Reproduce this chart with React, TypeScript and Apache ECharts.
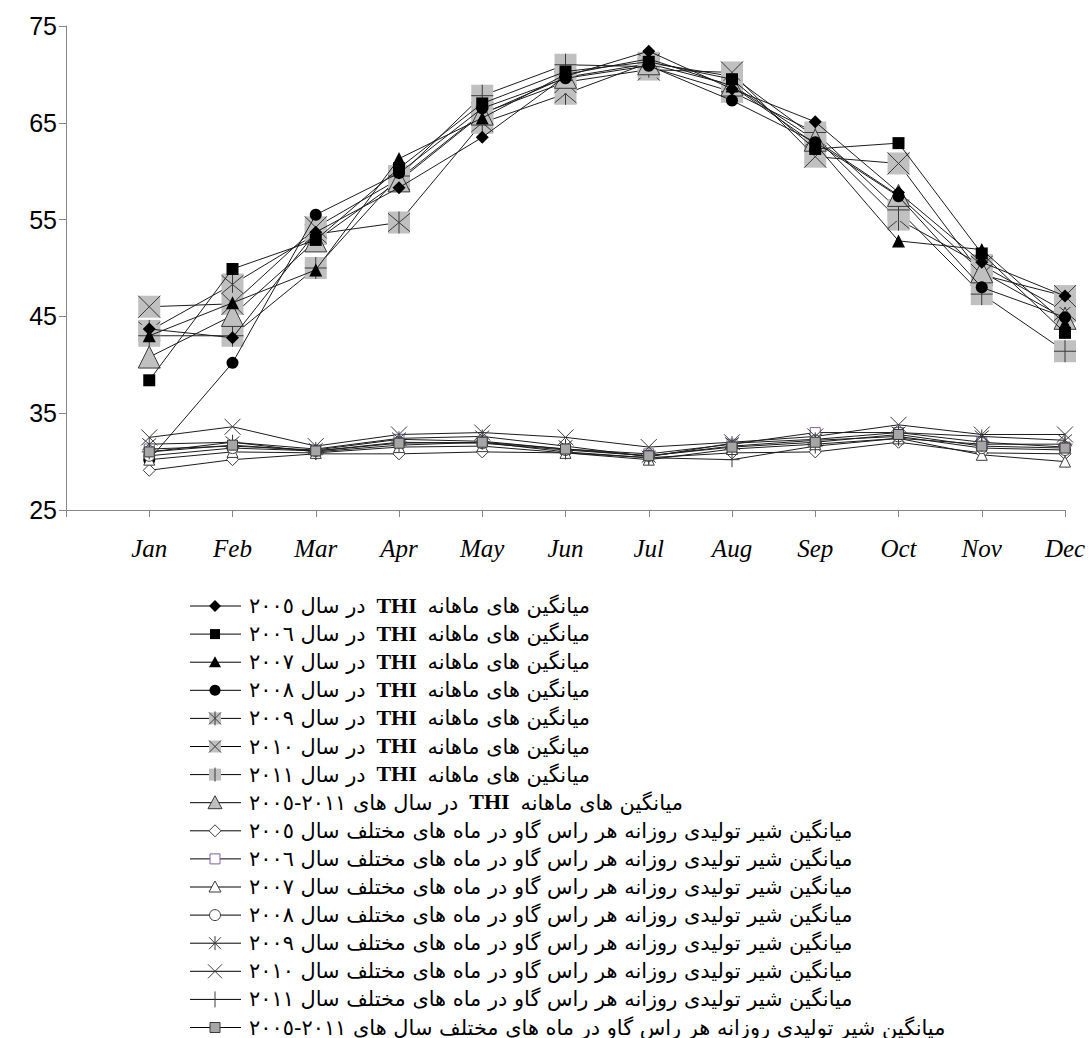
import React, { useEffect, useRef } from 'react';
import * as echarts from 'echarts';

// ---------- data ----------
const months = ['Jan', 'Feb', 'Mar', 'Apr', 'May', 'Jun', 'Jul', 'Aug', 'Sep', 'Oct', 'Nov', 'Dec'];
const yTicks = [25, 35, 45, 55, 65, 75];

const thi2005 = [43.7, 42.8, 53.7, 58.3, 63.5, 69.8, 72.4, 68.5, 65.1, 57.8, 50.6, 47.1];
const thi2006 = [38.4, 49.9, 52.9, 60.3, 67.0, 70.3, 71.3, 69.5, 62.3, 62.9, 51.5, 43.3];
const thi2007 = [43.0, 46.4, 49.8, 61.3, 65.5, 70.0, 71.6, 68.8, 62.8, 52.8, 51.9, 44.3];
const thi2008 = [30.2, 40.2, 55.5, 59.8, 66.5, 69.6, 70.9, 67.3, 63.0, 57.4, 48.0, 44.9];
const thi2009 = [43.5, 48.3, 53.5, 54.7, 65.0, 68.0, 71.2, 69.8, 63.5, 55.0, 50.3, 45.5];
const thi2010 = [46.0, 46.3, 54.2, 59.2, 66.0, 69.2, 70.5, 70.2, 61.5, 60.8, 49.3, 47.1];
const thi2011 = [43.0, 43.0, 50.0, 59.5, 67.8, 71.0, 70.8, 68.2, 64.0, 56.0, 47.3, 41.4];
const thiAvg = [40.8, 45.1, 52.8, 59.0, 65.9, 69.7, 71.1, 68.9, 63.2, 57.5, 49.6, 44.8];

const milk2005 = [29.1, 30.2, 30.8, 30.8, 31.0, 30.9, 30.4, 30.9, 31.0, 32.0, 30.9, 30.8];
const milk2006 = [31.3, 31.6, 31.2, 32.3, 32.1, 31.3, 30.8, 31.8, 33.0, 33.0, 32.0, 31.5];
const milk2007 = [30.2, 31.0, 30.9, 31.5, 31.6, 30.9, 30.2, 31.3, 31.8, 32.4, 30.7, 30.0];
const milk2008 = [30.6, 31.4, 31.1, 32.0, 31.9, 31.2, 30.6, 31.6, 32.2, 32.6, 31.4, 31.2];
const milk2009 = [31.8, 32.0, 31.3, 32.4, 32.6, 31.6, 30.5, 31.9, 32.3, 33.0, 32.6, 32.2];
const milk2010 = [32.5, 33.6, 31.6, 32.8, 33.0, 32.5, 31.5, 32.0, 32.6, 33.8, 32.8, 32.8];
const milk2011 = [31.0, 32.0, 31.0, 31.7, 32.0, 31.0, 30.4, 30.2, 31.6, 32.4, 31.8, 31.8];
const milkAvg = [31.0, 31.7, 31.1, 31.9, 32.0, 31.3, 30.6, 31.5, 32.0, 32.8, 31.6, 31.4];

// legend texts
const thiPrefix = 'میانگین های ماهانه';
const thiWord = 'THI';
const thiSuffixes = [
  'در سال ٢٠٠٥',
  'در سال ٢٠٠٦',
  'در سال ٢٠٠٧',
  'در سال ٢٠٠٨',
  'در سال ٢٠٠٩',
  'در سال ٢٠١٠',
  'در سال ٢٠١١',
  'در سال های ٢٠١١-٢٠٠٥',
];
const milkLabels = [
  'میانگین شیر تولیدی روزانه هر راس گاو در ماه های مختلف سال ٢٠٠٥',
  'میانگین شیر تولیدی روزانه هر راس گاو در ماه های مختلف سال ٢٠٠٦',
  'میانگین شیر تولیدی روزانه هر راس گاو در ماه های مختلف سال ٢٠٠٧',
  'میانگین شیر تولیدی روزانه هر راس گاو در ماه های مختلف سال ٢٠٠٨',
  'میانگین شیر تولیدی روزانه هر راس گاو در ماه های مختلف سال ٢٠٠٩',
  'میانگین شیر تولیدی روزانه هر راس گاو در ماه های مختلف سال ٢٠١٠',
  'میانگین شیر تولیدی روزانه هر راس گاو در ماه های مختلف سال ٢٠١١',
  'میانگین شیر تولیدی روزانه هر راس گاو در ماه های مختلف سال های ٢٠١١-٢٠٠٥',
];

// ---------- styling ----------
const LINE = '#1c1c1c';
const GRAY = '#c0c0c0';
const DARK = '#3a3a3a';
const PURPLE = '#7f5fa8';
const P_X = 'path://M0,0L10,10M10,0L0,10';
const P_PLUS = 'path://M5,0L5,10M0,5L10,5';
const P_AST = 'path://M0,0L10,10M10,0L0,10M5,-1L5,11';

const toXY = (arr: number[]) => arr.map((v, i) => [i + 1, v]);

function lineSeries(name: string, arr: number[], symbol: string, size: number, itemStyle: any, z = 2) {
  return {
    type: 'line',
    name,
    z,
    data: toXY(arr),
    symbol,
    symbolSize: size,
    showAllSymbol: true,
    itemStyle,
    lineStyle: { color: LINE, width: 1 },
    emphasis: { disabled: true },
    silent: true,
  };
}
function overlaySeries(arr: number[], symbol: string, size: number, color: string, z = 2) {
  return {
    type: 'line',
    z,
    data: toXY(arr),
    symbol,
    symbolSize: size,
    showAllSymbol: true,
    itemStyle: { color: 'rgba(0,0,0,0)', borderColor: color, borderWidth: 1 },
    lineStyle: { width: 0, opacity: 0 },
    emphasis: { disabled: true },
    silent: true,
  };
}

// ---------- legend graphics ----------
function marker(kind: string, cx: number, cy: number): any[] {
  const s = { stroke: DARK, lineWidth: 1 };
  const poly = (pts: number[][], style: any) => ({ type: 'polygon', shape: { points: pts }, style });
  const ln = (x1: number, y1: number, x2: number, y2: number, stroke = DARK) => ({
    type: 'line', shape: { x1, y1, x2, y2 }, style: { stroke, lineWidth: 1 },
  });
  const grayRect = (h: number) => ({ type: 'rect', shape: { x: cx - h, y: cy - h, width: 2 * h, height: 2 * h }, style: { fill: GRAY } });
  switch (kind) {
    case 'diamond': return [poly([[cx, cy - 6], [cx + 6, cy], [cx, cy + 6], [cx - 6, cy]], { fill: '#000' })];
    case 'square': return [{ type: 'rect', shape: { x: cx - 5, y: cy - 5, width: 10, height: 10 }, style: { fill: '#000' } }];
    case 'triangle': return [poly([[cx, cy - 6], [cx + 6, cy + 5], [cx - 6, cy + 5]], { fill: '#000' })];
    case 'circle': return [{ type: 'circle', shape: { cx, cy, r: 5.5 }, style: { fill: '#000' } }];
    case 'grayAst': return [grayRect(6), ln(cx - 6, cy - 6, cx + 6, cy + 6), ln(cx + 6, cy - 6, cx - 6, cy + 6), ln(cx, cy - 7, cx, cy + 7)];
    case 'grayX': return [grayRect(6), ln(cx - 6, cy - 6, cx + 6, cy + 6), ln(cx + 6, cy - 6, cx - 6, cy + 6)];
    case 'grayPlus': return [grayRect(6), ln(cx, cy - 7, cx, cy + 7)];
    case 'grayTri': return [poly([[cx, cy - 7], [cx + 7, cy + 6], [cx - 7, cy + 6]], { fill: GRAY, ...s })];
    case 'hDiamond': return [poly([[cx, cy - 6], [cx + 6, cy], [cx, cy + 6], [cx - 6, cy]], { fill: '#fff', ...s })];
    case 'hSquare': return [{ type: 'rect', shape: { x: cx - 5, y: cy - 5, width: 10, height: 10 }, style: { fill: '#fff', stroke: PURPLE, lineWidth: 1 } }];
    case 'hTriangle': return [poly([[cx, cy - 6], [cx + 6, cy + 5], [cx - 6, cy + 5]], { fill: '#fff', ...s })];
    case 'hCircle': return [{ type: 'circle', shape: { cx, cy, r: 5.5 }, style: { fill: '#fff', ...s } }];
    case 'ast': return [ln(cx - 6, cy - 6, cx + 6, cy + 6), ln(cx + 6, cy - 6, cx - 6, cy + 6), ln(cx, cy - 7, cx, cy + 7)];
    case 'x': return [ln(cx - 7, cy - 7, cx + 7, cy + 7), ln(cx + 7, cy - 7, cx - 7, cy + 7)];
    case 'plus': return [ln(cx, cy - 8, cx, cy + 8)];
    case 'graySquare': return [{ type: 'rect', shape: { x: cx - 5, y: cy - 5, width: 10, height: 10 }, style: { fill: '#a6a6a6', ...s } }];
  }
  return [];
}

const legendKinds = ['diamond', 'square', 'triangle', 'circle', 'grayAst', 'grayX', 'grayPlus', 'grayTri',
  'hDiamond', 'hSquare', 'hTriangle', 'hCircle', 'ast', 'x', 'plus', 'graySquare'];

const AR_FAMILY = '"DejaVu Sans", sans-serif';
const THI_FONT = 'bold 22px "Liberation Serif", serif';

function buildLegend(): any[] {
  const ctx = document.createElement('canvas').getContext('2d')!;
  const measure = (t: string, font: string) => { ctx.font = font; return ctx.measureText(t).width; };
  const tx = 249;
  const target = 853 - tx;
  const w100 = measure(milkLabels[0], `100px ${AR_FAMILY}`);
  const fs = Math.max(10, Math.min(26, (100 * target) / w100));
  const arFont = `${fs}px ${AR_FAMILY}`;

  const out: any[] = [];
  const x0 = 190, x1 = 241, mx = 215;
  for (let i = 0; i < 16; i++) {
    const y = 606 + i * 28.1;
    out.push({ type: 'line', shape: { x1: x0, y1: y, x2: x1, y2: y }, style: { stroke: '#000', lineWidth: 1 } });
    out.push(...marker(legendKinds[i], mx, y));
    if (i < 8) {
      const suf = thiSuffixes[i];
      const rightEnd = i < 7 ? 590 : 683;
      const wS = measure(suf, arFont);
      const wP = measure(thiPrefix, arFont);
      const thiCx = (tx + wS + rightEnd - wP) / 2;
      out.push({ type: 'text', x: tx, y, style: { text: suf, font: arFont, fill: '#000', textAlign: 'left', textVerticalAlign: 'middle' } });
      out.push({ type: 'text', x: thiCx, y: y - 1, style: { text: thiWord, font: THI_FONT, fill: '#000', textAlign: 'center', textVerticalAlign: 'middle' } });
      out.push({ type: 'text', x: rightEnd, y, style: { text: thiPrefix, font: arFont, fill: '#000', textAlign: 'right', textVerticalAlign: 'middle' } });
    } else {
      out.push({ type: 'text', x: tx, y, style: { text: milkLabels[i - 8], font: arFont, fill: '#000', textAlign: 'left', textVerticalAlign: 'middle' } });
    }
  }
  return out;
}

export default function App() {
  const ref = useRef<HTMLDivElement>(null);
  useEffect(() => {
    if (!ref.current) return;
    const chart = echarts.init(ref.current, undefined, { renderer: 'svg' });
    const series: any[] = [
      // gray THI markers first (drawn beneath the black ones)
      lineSeries('THI 2009', thi2009, 'rect', 22, { color: GRAY }, 2),
      overlaySeries(thi2009, P_AST, 22, DARK, 2),
      lineSeries('THI 2010', thi2010, 'rect', 22, { color: GRAY }, 2),
      overlaySeries(thi2010, P_X, 22, DARK, 2),
      lineSeries('THI 2011', thi2011, 'rect', 22, { color: GRAY }, 2),
      overlaySeries(thi2011, P_PLUS, 22, DARK, 2),
      lineSeries('THI 2005-2011', thiAvg, 'triangle', 22, { color: GRAY, borderColor: DARK, borderWidth: 1 }, 2),
      lineSeries('THI 2005', thi2005, 'diamond', 13, { color: '#000' }, 3),
      lineSeries('THI 2006', thi2006, 'rect', 12, { color: '#000' }, 3),
      lineSeries('THI 2007', thi2007, 'triangle', 13, { color: '#000' }, 3),
      lineSeries('THI 2008', thi2008, 'circle', 12, { color: '#000' }, 3),
      lineSeries('Milk 2005', milk2005, 'diamond', 12, { color: '#fff', borderColor: DARK, borderWidth: 1 }, 4),
      lineSeries('Milk 2006', milk2006, 'rect', 10, { color: '#fff', borderColor: PURPLE, borderWidth: 1 }, 4),
      lineSeries('Milk 2007', milk2007, 'triangle', 11, { color: '#fff', borderColor: DARK, borderWidth: 1 }, 4),
      lineSeries('Milk 2008', milk2008, 'circle', 11, { color: '#fff', borderColor: DARK, borderWidth: 1 }, 4),
      lineSeries('Milk 2009', milk2009, 'none', 1, { color: '#000' }, 4),
      overlaySeries(milk2009, P_AST, 14, DARK, 4),
      lineSeries('Milk 2010', milk2010, 'none', 1, { color: '#000' }, 4),
      overlaySeries(milk2010, P_X, 16, DARK, 4),
      lineSeries('Milk 2011', milk2011, 'none', 1, { color: '#000' }, 4),
      overlaySeries(milk2011, P_PLUS, 15, DARK, 4),
      lineSeries('Milk 2005-2011', milkAvg, 'rect', 10, { color: '#a6a6a6', borderColor: DARK, borderWidth: 1 }, 4),
    ];
    chart.setOption({
      animation: false,
      backgroundColor: '#fff',
      grid: { left: 66, top: 26, right: 27, bottom: 528, containLabel: false },
      xAxis: {
        type: 'value',
        min: 0,
        max: months.length,
        interval: 1,
        splitLine: { show: false },
        axisLine: { lineStyle: { color: '#868686', width: 1 } },
        axisTick: { show: true, length: 7, lineStyle: { color: '#868686' } },
        axisLabel: {
          margin: 26,
          color: '#000',
          fontFamily: '"Liberation Serif", serif',
          fontStyle: 'italic',
          fontSize: 25,
          formatter: (v: number) => (v >= 1 && v <= months.length ? months[v - 1] : ''),
        },
      },
      yAxis: {
        type: 'value',
        min: yTicks[0],
        max: yTicks[yTicks.length - 1],
        interval: yTicks[1] - yTicks[0],
        splitLine: { show: false },
        axisLine: { show: true, lineStyle: { color: '#868686', width: 1 } },
        axisTick: { show: true, length: 7, lineStyle: { color: '#868686' } },
        axisLabel: { margin: 9, color: '#000', fontFamily: '"Liberation Sans", Arial, sans-serif', fontSize: 25 },
      },
      series,
      graphic: buildLegend(),
    });
    return () => chart.dispose();
  }, []);
  return <div ref={ref} style={{ position: 'fixed', left: 0, top: 0, width: 1092, height: 1038 }} />;
}
